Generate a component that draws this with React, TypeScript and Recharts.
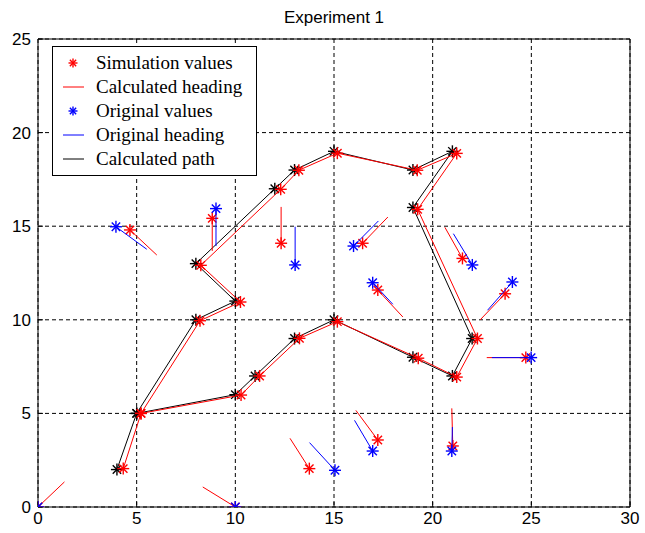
import React from "react"
import { ComposedChart, Scatter, XAxis, YAxis, CartesianGrid } from "recharts"

// Calculated path (black) and simulated path (red)
const pathX = [4, 5, 8, 10, 8, 12, 13, 15, 19, 21, 19, 22, 21, 19, 15, 13, 11, 10, 5]
const pathY = [2, 5, 10, 11, 13, 17, 18, 19, 18, 19, 16, 9, 7, 8, 10, 9, 7, 6, 5]
const simPathX = [4.32, 5.22, 8.21, 10.26, 8.25, 12.3, 13.22, 15.17, 19.22, 21.22, 19.24, 22.27, 21.22, 19.27, 15.17, 13.25, 11.23, 10.29, 5.22]
const simPathY = [2.05, 5.0, 9.95, 10.95, 12.91, 16.97, 17.99, 18.9, 17.99, 18.89, 15.9, 9.0, 6.94, 7.95, 9.9, 9.01, 7.0, 5.98, 5.0]

// Original values with their heading ends
const origX = [0, 10, 3.95, 9.02, 13.03, 15.99, 16.96, 22.01, 24.04, 24.99, 15.05, 16.96, 20.97]
const origY = [0, 0, 14.97, 15.94, 12.93, 13.94, 11.98, 12.93, 12.02, 7.98, 1.96, 2.99, 2.99]
// heading ends for origX/origY[2..]
const origHeadX = [5.51, 9.02, 13.03, 17.25, 17.98, 21.05, 22.78, 23.0, 13.76, 16.04, 21.0]
const origHeadY = [13.77, 13.94, 14.97, 15.28, 10.83, 14.6, 10.51, 7.98, 3.44, 4.63, 4.27]

// Simulation values with their calculated heading ends
const simX = [0, 10, 4.66, 8.83, 12.32, 16.45, 17.22, 21.51, 23.67, 24.72, 13.75, 17.22, 21.02]
const simY = [0, 0, 14.8, 15.42, 14.09, 14.09, 11.59, 13.28, 11.39, 7.98, 2.05, 3.58, 3.26]
const simHeadX = [1.34, 8.35, 6.02, 8.83, 12.32, 17.73, 18.49, 20.62, 22.4, 22.74, 12.77, 16.11, 20.97]
const simHeadY = [1.34, 1.07, 13.46, 13.68, 16.03, 15.49, 10.15, 14.94, 9.99, 7.98, 3.67, 5.16, 5.27]

const xTicks = [0, 5, 10, 15, 20, 25, 30]
const yTicks = [0, 5, 10, 15, 20, 25]

const RED = "#ff0000"
const BLUE = "#0000ff"
const BLACK = "#000000"

const toPoints = (xs: number[], ys: number[]) => xs.map((x, i) => ({ x, y: ys[i] }))

const pathPts = toPoints(pathX, pathY)
const simPathPts = toPoints(simPathX, simPathY)
const origPts = toPoints(origX, origY)
const simPts = toPoints(simX, simY)

const origHeadings = origHeadX.map((hx, i) => [
  { x: origX[i + 2], y: origY[i + 2] },
  { x: hx, y: origHeadY[i] },
])
const simHeadings = simHeadX.map((hx, i) => [
  { x: simX[i], y: simY[i] },
  { x: hx, y: simHeadY[i] },
])

function StarMark({ cx, cy, color, r = 6 }: { cx: number; cy: number; color: string; r?: number }) {
  const d = r * 0.7
  return (
    <g stroke={color} strokeWidth={1.4}>
      <line x1={cx - r} y1={cy} x2={cx + r} y2={cy} />
      <line x1={cx} y1={cy - r} x2={cx} y2={cy + r} />
      <line x1={cx - d} y1={cy - d} x2={cx + d} y2={cy + d} />
      <line x1={cx - d} y1={cy + d} x2={cx + d} y2={cy - d} />
    </g>
  )
}

const starShape = (color: string) => (props: any) => <StarMark cx={props.cx} cy={props.cy} color={color} />
const noShape = () => <g />

const LEGEND_ROWS = [
  { label: "Simulation values", color: RED, kind: "star" },
  { label: "Calculated heading", color: RED, kind: "line" },
  { label: "Original values", color: BLUE, kind: "star" },
  { label: "Original heading", color: BLUE, kind: "line" },
  { label: "Calculated path", color: BLACK, kind: "line" },
]

function LegendBox() {
  return (
    <div
      style={{
        position: "absolute",
        left: 52,
        top: 46,
        width: 205,
        height: 130,
        boxSizing: "border-box",
        border: "1px solid #000",
        background: "#fff",
        paddingTop: 4,
        fontFamily: '"Liberation Serif", "Times New Roman", serif',
        fontSize: 19,
        color: "#000",
      }}
    >
      {LEGEND_ROWS.map((row) => (
        <div key={row.label} style={{ display: "flex", alignItems: "center", height: 24 }}>
          <svg width={43} height={24} style={{ flex: "none" }}>
            {row.kind === "star" ? (
              <StarMark cx={20} cy={12} color={row.color} r={4.5} />
            ) : (
              <line x1={10} y1={12} x2={31} y2={12} stroke={row.color} strokeWidth={1} />
            )}
          </svg>
          <span style={{ whiteSpace: "nowrap", lineHeight: "24px" }}>{row.label}</span>
        </div>
      ))}
    </div>
  )
}

const tickStyle = { fill: "#000", fontSize: 17, fontFamily: '"Liberation Sans", Arial, sans-serif' }

export default function App() {
  return (
    <div style={{ position: "absolute", left: 0, top: 0, width: 645, height: 533, background: "#fff" }}>
      <div
        style={{
          position: "absolute",
          left: 38,
          width: 592,
          top: 8,
          textAlign: "center",
          fontFamily: '"Liberation Sans", Arial, sans-serif',
          fontSize: 17,
          color: "#000",
        }}
      >
        Experiment 1
      </div>
      <ComposedChart width={645} height={533} margin={{ top: 38, right: 14, bottom: 0, left: 0 }}>
        <CartesianGrid stroke="#000" strokeDasharray="4 3" />
        <XAxis
          xAxisId={0}
          type="number"
          dataKey="x"
          domain={[0, 30]}
          ticks={xTicks}
          height={26}
          stroke="#000"
          tickSize={-5}
          tickMargin={10}
          tick={tickStyle}
          allowDataOverflow
        />
        <XAxis
          xAxisId="top"
          orientation="top"
          type="number"
          dataKey="x"
          domain={[0, 30]}
          ticks={xTicks}
          height={1}
          stroke="#000"
          tickSize={-5}
          tick={false}
        />
        <YAxis
          yAxisId={0}
          type="number"
          dataKey="y"
          domain={[0, 25]}
          ticks={yTicks}
          width={38}
          stroke="#000"
          tickSize={-5}
          tickMargin={12}
          tick={tickStyle}
          allowDataOverflow
        />
        <YAxis
          yAxisId="right"
          orientation="right"
          type="number"
          dataKey="y"
          domain={[0, 25]}
          ticks={yTicks}
          width={1}
          stroke="#000"
          tickSize={-5}
          tick={false}
        />

        {/* paths */}
        <Scatter data={pathPts} line={{ stroke: BLACK, strokeWidth: 1 }} shape={starShape(BLACK)} isAnimationActive={false} />
        <Scatter data={simPathPts} line={{ stroke: RED, strokeWidth: 1 }} shape={starShape(RED)} isAnimationActive={false} />

        {/* calculated headings and simulation values */}
        {simHeadings.map((seg, i) => (
          <Scatter key={`sh-${i}`} data={seg} line={{ stroke: RED, strokeWidth: 1 }} shape={noShape} isAnimationActive={false} />
        ))}
        <Scatter data={simPts} shape={starShape(RED)} isAnimationActive={false} />

        {/* original headings and values */}
        {origHeadings.map((seg, i) => (
          <Scatter key={`oh-${i}`} data={seg} line={{ stroke: BLUE, strokeWidth: 1 }} shape={noShape} isAnimationActive={false} />
        ))}
        <Scatter data={origPts} shape={starShape(BLUE)} isAnimationActive={false} />
      </ComposedChart>
      <LegendBox />
    </div>
  )
}
